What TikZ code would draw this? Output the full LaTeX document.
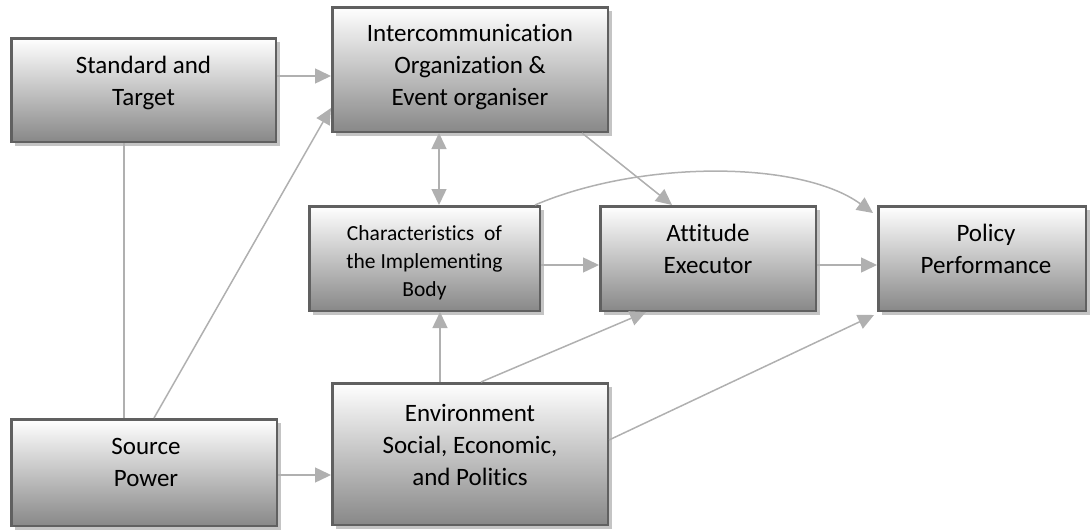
\documentclass[tikz,border=0pt]{standalone}
\usepackage{fontspec}
\setmainfont{Carlito}[Ligatures=NoCommon]
\usetikzlibrary{arrows.meta,shadows}
\definecolor{bordc}{HTML}{606060}
\definecolor{connc}{HTML}{B0B0B0}
\definecolor{shadc}{HTML}{C4C4C4}
\definecolor{midc}{HTML}{D6D6D6}
\definecolor{botc}{HTML}{888888}
\tikzset{
  box/.style={draw=bordc, line width=2.5pt, inner sep=0pt,
    top color=white, middle color=midc, bottom color=botc,
    drop shadow={shadow xshift=4pt, shadow yshift=-4pt, opacity=1, fill=shadc}},
  txt/.style={align=center, inner sep=0pt, font=\fontsize{25}{32}\selectfont},
  smalltxt/.style={align=center, inner sep=0pt, font=\fontsize{21.5}{28}\selectfont},
  conn/.style={draw=connc, line width=1.5pt},
  arr/.style={conn, -{Triangle[length=16pt,width=15pt]}, color=connc},
  darr/.style={conn, {Triangle[length=16pt,width=15pt]}-{Triangle[length=16pt,width=15pt]}, color=connc},
}
\begin{document}
\begin{tikzpicture}[x=1pt,y=-1pt]
\useasboundingbox (0,0) rectangle (1090,530);
% boxes
\node[box, minimum width=264.5pt, minimum height=103.5pt] (ST) at (143.5,90) {};
\node[box, minimum width=275.5pt, minimum height=124.5pt] (IC) at (470,69.5) {};
\node[box, minimum width=230.5pt, minimum height=104.5pt] (CH) at (424.5,258.5) {};
\node[box, minimum width=215.5pt, minimum height=104.5pt] (AT) at (708,258.5) {};
\node[box, minimum width=207.5pt, minimum height=104.5pt] (PP) at (982,258.5) {};
\node[box, minimum width=265.5pt, minimum height=106.5pt] (SP) at (144,472.5) {};
\node[box, minimum width=275.5pt, minimum height=141.5pt] (EN) at (470,454) {};
% texts
\node[txt] (STt) at (143.5,82.5) {Standard and\\Target};
\node[txt] (ICt) at (470,67.5) {Intercommunication\\Organization \&\\Event organiser};
\node[smalltxt] (CHt) at (424.5,263) {Characteristics\ \ of\\the Implementing\\Body};
\node[txt] (ATt) at (708,249) {Attitude\\Executor};
\node[txt] (PPt) at (986,249) {Policy\\Performance};
\node[txt] (SPt) at (146,462.5) {Source\\Power};
\node[txt] (ENt) at (470,445) {Environment\\Social, Economic,\\and Politics};
% helper coordinates
\coordinate (y76) at (0,76);
\coordinate (y108) at (0,108);
\coordinate (y475) at (0,475);
\coordinate (y265) at (0,265);
\coordinate (y440) at (0,440);
\coordinate (x124) at (124,0);
\coordinate (x154) at (154,0);
\coordinate (x439) at (439,0);
\coordinate (x440) at (440,0);
\coordinate (x481) at (481,0);
\coordinate (x535) at (535,0);
\coordinate (x582) at (582,0);
\coordinate (x646) at (646,0);
\coordinate (x672) at (672,0);
\coordinate (ppin) at (873,213);
\coordinate (ppin2) at (874,315);
% connectors
\draw[arr] (ST.east |- y76) -- (IC.west |- y76);
\draw[arr] (x154 |- SP.north) -- (IC.west |- y108);
\draw[conn] (x124 |- ST.south) -- (x124 |- SP.north);
\draw[arr] (SP.east |- y475) -- (EN.west |- y475);
\draw[darr] (x439 |- IC.south) -- (x439 |- CH.north);
\draw[arr] (x582 |- IC.south) -- (x672 |- AT.north);
\draw[arr] (x535 |- CH.north) .. controls (640,160) and (800,160) .. (ppin);
\draw[arr] (CH.east |- y265) -- (AT.west |- y265);
\draw[arr] (AT.east |- y265) -- (PP.west |- y265);
\draw[arr] (x440 |- EN.north) -- (x440 |- CH.south);
\draw[arr] (x481 |- EN.north) -- (x646 |- AT.south);
\draw[arr] (EN.east |- y440) -- (ppin2);
\end{tikzpicture}
\end{document}
